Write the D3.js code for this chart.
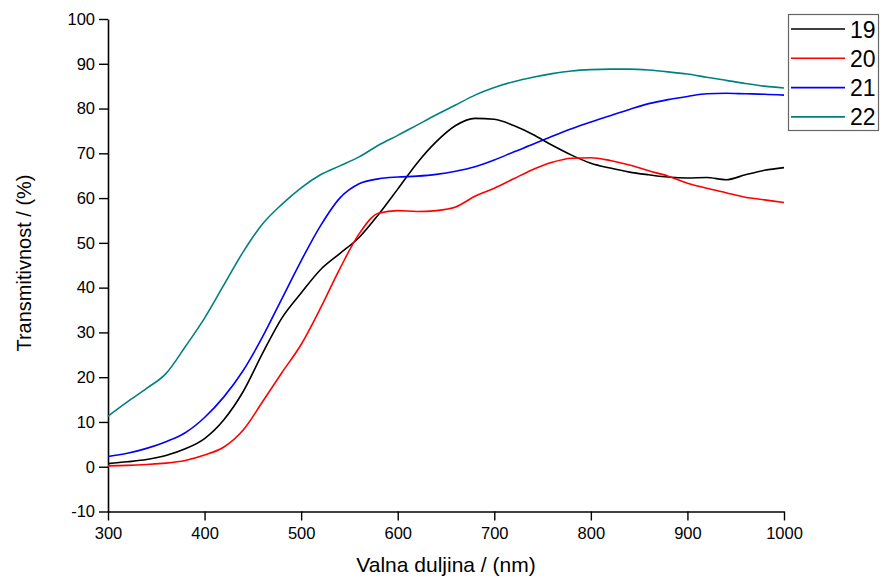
<!DOCTYPE html>
<html>
<head>
<meta charset="utf-8">
<script src="https://cdn.jsdelivr.net/npm/d3@7"></script>
<style>
  body { margin: 0; background: #fff; }
  text { font-family: "Liberation Sans", Arial, sans-serif; }
</style>
</head>
<body>
<div id="chart"></div>
<script>
'use strict';

// wavelengths (nm), 20 nm steps
const wavelength = d3.range(300, 1001, 20);

// transmittance values (%)
const s19 = [0.7, 1.1, 1.6, 2.5, 4.0, 6.3, 10.5, 16.8, 25.3, 33.2, 38.8, 44.0, 47.6, 51.2, 56.3,
             62.0, 67.8, 72.6, 76.2, 77.8, 77.6, 76.2, 74.2, 71.8, 69.6, 67.8, 66.7, 65.8, 65.2,
             64.7, 64.5, 64.6, 64.1, 65.2, 66.2, 66.8];
const s20 = [0.2, 0.3, 0.5, 0.8, 1.4, 2.6, 4.4, 8.2, 14.5, 21.0, 27.3, 35.4, 44.2, 52.0, 56.6,
             57.2, 57.0, 57.2, 58.0, 60.4, 62.2, 64.3, 66.4, 68.0, 68.9, 69.0, 68.4, 67.4, 66.1,
             64.9, 63.3, 62.2, 61.2, 60.2, 59.6, 59.0];
const s21 = [2.3, 3.0, 4.1, 5.6, 7.6, 11.0, 15.6, 21.5, 29.0, 37.5, 46.0, 53.8, 60.0, 63.2, 64.3,
             64.7, 64.9, 65.3, 66.0, 67.0, 68.5, 70.3, 72.0, 73.8, 75.5, 77.0, 78.4, 79.8, 81.1,
             82.0, 82.7, 83.3, 83.4, 83.3, 83.2, 83.0];
const s22 = [11.3, 14.5, 17.5, 20.8, 26.8, 33.2, 40.6, 48.0, 54.2, 58.6, 62.3, 65.2, 67.2, 69.2,
             71.8, 74.0, 76.3, 78.6, 80.8, 83.0, 84.7, 86.0, 87.0, 87.8, 88.4, 88.7, 88.8, 88.8,
             88.6, 88.2, 87.7, 87.0, 86.3, 85.6, 85.0, 84.6];

const seriesNames = ['19', '20', '21', '22'];
const seriesData = [s19, s20, s21, s22];
const colors = ['#000000', '#ff0000', '#0000ff', '#008080'];

const xTicks = [300, 400, 500, 600, 700, 800, 900, 1000];
const yTicks = [-10, 0, 10, 20, 30, 40, 50, 60, 70, 80, 90, 100];

const W = 882, H = 582;
const m = { left: 108, right: 784, top: 19, bottom: 511.5 };

const svg = d3.select('#chart').append('svg')
    .attr('width', W)
    .attr('height', H);

const x = d3.scaleLinear().domain([300, 1000]).range([m.left, m.right]);
const y = d3.scaleLinear().domain([-10, 100]).range([m.bottom, m.top]);

// axes with minor ticks
const xMinor = d3.range(350, 1000, 100);
const yMinor = d3.range(-5, 100, 10);

const gx = svg.append('g').attr('transform', `translate(0,${m.bottom})`);
gx.call(d3.axisBottom(x).tickValues(xMinor).tickSize(5).tickFormat(''));
gx.call(d3.axisBottom(x).tickValues(xTicks).tickSize(9).tickSizeOuter(0).tickPadding(7).tickFormat(d => String(d)));

const gy = svg.append('g').attr('transform', `translate(${m.left},0)`);
gy.call(d3.axisLeft(y).tickValues(yMinor).tickSize(5).tickFormat(''));
gy.call(d3.axisLeft(y).tickValues(yTicks).tickSize(9).tickSizeOuter(0).tickPadding(4).tickFormat(d => String(d)));

svg.selectAll('.domain').attr('stroke', '#000').attr('stroke-width', 1.6);
svg.selectAll('.tick line').attr('stroke', '#000').attr('stroke-width', 1.4);
svg.selectAll('.tick text')
    .attr('font-size', 16.5)
    .attr('fill', '#000')
    .style('font-family', '"Liberation Sans", Arial, sans-serif');

// lines
const line = d3.line()
    .x((d, i) => x(wavelength[i]))
    .y(d => y(d))
    .curve(d3.curveMonotoneX);

seriesData.forEach((s, k) => {
    svg.append('path')
        .datum(s)
        .attr('fill', 'none')
        .attr('stroke', colors[k])
        .attr('stroke-width', 1.6)
        .attr('d', line);
});

// axis titles
svg.append('text')
    .attr('x', 446)
    .attr('y', 572)
    .attr('text-anchor', 'middle')
    .attr('font-size', 21)
    .text('Valna duljina / (nm)');

svg.append('text')
    .attr('transform', 'translate(31,263) rotate(-90)')
    .attr('text-anchor', 'middle')
    .attr('font-size', 20)
    .text('Transmitivnost / (%)');

// legend
const lg = svg.append('g');
lg.append('rect')
    .attr('x', 788.5).attr('y', 14.5)
    .attr('width', 90).attr('height', 116)
    .attr('fill', '#fff')
    .attr('stroke', '#666')
    .attr('stroke-width', 1.2);

seriesNames.forEach((n, k) => {
    const ly = 29 + k * 29.3;
    lg.append('line')
        .attr('x1', 791).attr('x2', 845)
        .attr('y1', ly).attr('y2', ly)
        .attr('stroke', colors[k])
        .attr('stroke-width', 1.6);
    lg.append('text')
        .attr('x', 850).attr('y', ly + 8.5)
        .attr('font-size', 23)
        .text(n);
});
</script>
</body>
</html>
